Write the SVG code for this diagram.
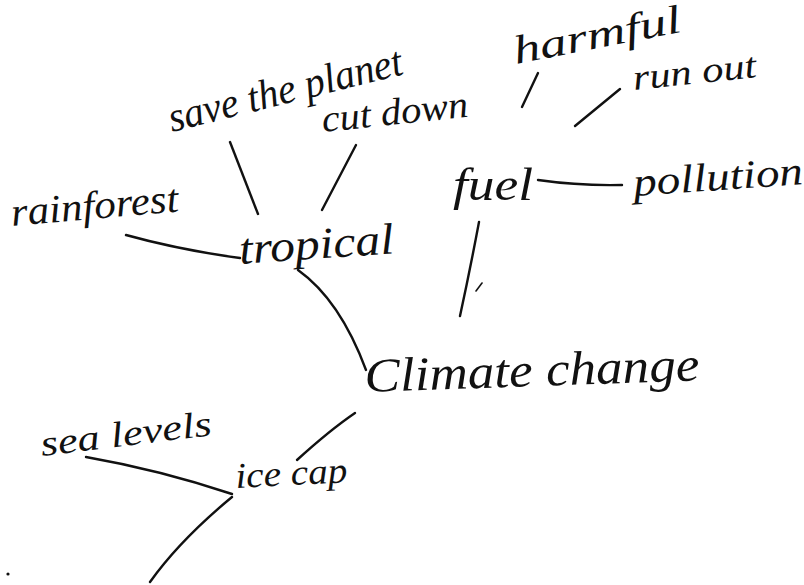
<svg xmlns="http://www.w3.org/2000/svg" width="804" height="585" viewBox="0 0 804 585">
<style>
.t{font-family:"Liberation Serif","DejaVu Serif",serif;font-style:italic;fill:#111;}
.c{fill:none;stroke:#111;stroke-width:2.4;stroke-linecap:round;stroke-linejoin:round;}
</style>
<rect width="804" height="585" fill="#fff"/>
<g id="connectors">
<path class="c" d="M230,142 L258,214"/>
<path class="c" d="M356,145 L322,210"/>
<path class="c" d="M126,235 Q180,250 240,258"/>
<path class="c" d="M298,270 Q340,300 366,370"/>
<path class="c" d="M355,413 Q330,430 297,460"/>
<path class="c" d="M86,457 Q160,470 232,494"/>
<path class="c" d="M232,497 Q180,540 150,582"/>
<path class="c" d="M479,222 Q470,270 460,316"/>
<path class="c" d="M482,283 L476,291" style="stroke-width:1.6"/>
<path class="c" d="M538,180 Q580,186 622,185"/>
<path class="c" d="M538,73 L522,107"/>
<path class="c" d="M620,89 L575,126"/>
<circle cx="8" cy="574" r="1.6" fill="#111"/>
</g>
<g id="save-the-planet"><text class="t" x="172" y="132" font-size="42" textLength="240" lengthAdjust="spacingAndGlyphs" transform="rotate(-14 172 132)">save the planet</text></g>
<g id="cut-down"><text class="t" x="323" y="132" font-size="38" textLength="147" lengthAdjust="spacingAndGlyphs" transform="rotate(-6 323 132)">cut down</text></g>
<g id="harmful"><text class="t" x="516" y="64" font-size="40" textLength="170" lengthAdjust="spacingAndGlyphs" transform="rotate(-11 516 64)">harmful</text></g>
<g id="run-out"><text class="t" x="634" y="90" font-size="36" textLength="124" lengthAdjust="spacingAndGlyphs" transform="rotate(-6 634 90)">run out</text></g>
<g id="rainforest"><text class="t" x="12" y="226" font-size="40" textLength="168" lengthAdjust="spacingAndGlyphs" transform="rotate(-5 12 226)">rainforest</text></g>
<g id="tropical"><text class="t" x="240" y="264" font-size="44" textLength="155" lengthAdjust="spacingAndGlyphs" transform="rotate(-4 240 264)">tropical</text></g>
<g id="fuel"><text class="t" x="453" y="200" font-size="46" textLength="80" lengthAdjust="spacingAndGlyphs">fuel</text></g>
<g id="pollution"><text class="t" x="634" y="196" font-size="40" textLength="170" lengthAdjust="spacingAndGlyphs" transform="rotate(-4 634 196)">pollution</text></g>
<g id="climate-change"><text class="t" x="365" y="392" font-size="48" textLength="335" lengthAdjust="spacingAndGlyphs" transform="rotate(-2 365 392)">Climate  change</text></g>
<g id="sea-levels"><text class="t" x="42" y="456" font-size="36" textLength="172" lengthAdjust="spacingAndGlyphs" transform="rotate(-7 42 456)">sea levels</text></g>
<g id="ice-cap"><text class="t" x="236" y="488" font-size="36" textLength="112" lengthAdjust="spacingAndGlyphs" transform="rotate(-3 236 488)">ice cap</text></g>
</svg>
